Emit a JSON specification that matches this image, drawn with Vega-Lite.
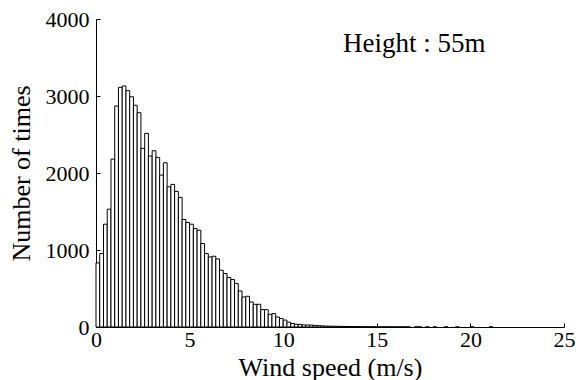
{
  "$schema": "https://vega.github.io/schema/vega-lite/v6.json",
  "autosize": "none",
  "width": 468,
  "height": 308,
  "padding": {"left": 96, "top": 19, "right": 12, "bottom": 53},
  "background": "white",
  "config": {
    "view": {"stroke": null},
    "font": "Liberation Serif",
    "axis": {
      "grid": false,
      "domainColor": "black",
      "domainWidth": 1,
      "tickColor": "black",
      "tickWidth": 1,
      "labelColor": "black",
      "titleColor": "black",
      "labelFont": "Liberation Serif",
      "titleFont": "Liberation Serif",
      "titleFontWeight": "normal",
      "labelFontSize": 22,
      "titleFontSize": 26
    }
  },
  "datasets": {
    "bins": [
      {"x0": 0.0, "x1": 0.2, "count": 832},
      {"x0": 0.2, "x1": 0.4, "count": 954},
      {"x0": 0.4, "x1": 0.6, "count": 1335},
      {"x0": 0.6, "x1": 0.8, "count": 1530},
      {"x0": 0.8, "x1": 1.0, "count": 2180},
      {"x0": 1.0, "x1": 1.2, "count": 2870},
      {"x0": 1.2, "x1": 1.4, "count": 3113},
      {"x0": 1.4, "x1": 1.6, "count": 3130},
      {"x0": 1.6, "x1": 1.8, "count": 3070},
      {"x0": 1.8, "x1": 2.0, "count": 2990},
      {"x0": 2.0, "x1": 2.2, "count": 2880},
      {"x0": 2.2, "x1": 2.4, "count": 2783},
      {"x0": 2.4, "x1": 2.6, "count": 2320},
      {"x0": 2.6, "x1": 2.8, "count": 2515},
      {"x0": 2.8, "x1": 3.0, "count": 2220},
      {"x0": 3.0, "x1": 3.2, "count": 2289},
      {"x0": 3.2, "x1": 3.4, "count": 2203},
      {"x0": 3.4, "x1": 3.6, "count": 1973},
      {"x0": 3.6, "x1": 3.8, "count": 2133},
      {"x0": 3.8, "x1": 4.0, "count": 1821},
      {"x0": 4.0, "x1": 4.2, "count": 1852},
      {"x0": 4.2, "x1": 4.4, "count": 1761},
      {"x0": 4.4, "x1": 4.6, "count": 1683},
      {"x0": 4.6, "x1": 4.8, "count": 1397},
      {"x0": 4.8, "x1": 5.0, "count": 1358},
      {"x0": 5.0, "x1": 5.2, "count": 1335},
      {"x0": 5.2, "x1": 5.4, "count": 1279},
      {"x0": 5.4, "x1": 5.6, "count": 1257},
      {"x0": 5.6, "x1": 5.8, "count": 1084},
      {"x0": 5.8, "x1": 6.0, "count": 954},
      {"x0": 6.0, "x1": 6.2, "count": 910},
      {"x0": 6.2, "x1": 6.4, "count": 919},
      {"x0": 6.4, "x1": 6.6, "count": 884},
      {"x0": 6.6, "x1": 6.8, "count": 737},
      {"x0": 6.8, "x1": 7.0, "count": 694},
      {"x0": 7.0, "x1": 7.2, "count": 642},
      {"x0": 7.2, "x1": 7.4, "count": 616},
      {"x0": 7.4, "x1": 7.6, "count": 564},
      {"x0": 7.6, "x1": 7.8, "count": 468},
      {"x0": 7.8, "x1": 8.0, "count": 390},
      {"x0": 8.0, "x1": 8.2, "count": 399},
      {"x0": 8.2, "x1": 8.4, "count": 325},
      {"x0": 8.4, "x1": 8.6, "count": 295},
      {"x0": 8.6, "x1": 8.8, "count": 295},
      {"x0": 8.8, "x1": 9.0, "count": 226},
      {"x0": 9.0, "x1": 9.2, "count": 226},
      {"x0": 9.2, "x1": 9.4, "count": 165},
      {"x0": 9.4, "x1": 9.6, "count": 174},
      {"x0": 9.6, "x1": 9.8, "count": 130},
      {"x0": 9.8, "x1": 10.0, "count": 109},
      {"x0": 10.0, "x1": 10.2, "count": 90},
      {"x0": 10.2, "x1": 10.4, "count": 63},
      {"x0": 10.4, "x1": 10.6, "count": 45},
      {"x0": 10.6, "x1": 10.8, "count": 36},
      {"x0": 10.8, "x1": 11.0, "count": 34},
      {"x0": 11.0, "x1": 11.2, "count": 27},
      {"x0": 11.2, "x1": 11.4, "count": 26},
      {"x0": 11.4, "x1": 11.6, "count": 25},
      {"x0": 11.6, "x1": 11.8, "count": 21},
      {"x0": 11.8, "x1": 12.0, "count": 17},
      {"x0": 12.0, "x1": 12.2, "count": 15},
      {"x0": 12.2, "x1": 12.4, "count": 12},
      {"x0": 12.4, "x1": 12.6, "count": 11},
      {"x0": 12.6, "x1": 12.8, "count": 10},
      {"x0": 12.8, "x1": 13.0, "count": 9},
      {"x0": 13.0, "x1": 13.2, "count": 8},
      {"x0": 13.2, "x1": 13.4, "count": 7},
      {"x0": 13.4, "x1": 13.6, "count": 7},
      {"x0": 13.6, "x1": 13.8, "count": 6},
      {"x0": 13.8, "x1": 14.0, "count": 5},
      {"x0": 14.0, "x1": 14.2, "count": 5},
      {"x0": 14.2, "x1": 14.4, "count": 4},
      {"x0": 14.4, "x1": 14.6, "count": 4},
      {"x0": 14.6, "x1": 14.8, "count": 3},
      {"x0": 14.8, "x1": 15.0, "count": 3},
      {"x0": 15.0, "x1": 15.2, "count": 3},
      {"x0": 15.2, "x1": 15.4, "count": 2},
      {"x0": 15.4, "x1": 15.6, "count": 2},
      {"x0": 15.6, "x1": 15.8, "count": 2},
      {"x0": 15.8, "x1": 16.0, "count": 2},
      {"x0": 16.0, "x1": 16.2, "count": 1},
      {"x0": 16.2, "x1": 16.4, "count": 2},
      {"x0": 16.4, "x1": 16.6, "count": 1},
      {"x0": 16.6, "x1": 16.8, "count": 1},
      {"x0": 17.0, "x1": 17.2, "count": 1},
      {"x0": 17.2, "x1": 17.4, "count": 1},
      {"x0": 17.6, "x1": 17.8, "count": 1},
      {"x0": 18.0, "x1": 18.2, "count": 1},
      {"x0": 18.6, "x1": 18.8, "count": 1},
      {"x0": 19.2, "x1": 19.4, "count": 1},
      {"x0": 20.0, "x1": 20.2, "count": 1},
      {"x0": 21.0, "x1": 21.2, "count": 1}
    ],
    "notes": [
      {"x": 17.0, "y": 3570, "label": "Height : 55m"}
    ]
  },
  "layer": [
    {
      "data": {"name": "bins"},
      "mark": {"type": "bar", "fill": "white", "stroke": "black", "strokeWidth": 1},
      "encoding": {
        "x": {
          "field": "x0",
          "type": "quantitative",
          "scale": {"domain": [0, 25], "nice": false, "zero": false},
          "axis": {
            "title": "Wind speed (m/s)",
            "values": [0, 5, 10, 15, 20, 25],
            "format": "d",
            "tickSize": -4,
            "labelPadding": 6,
            "labelFlush": false,
            "labelOverlap": false,
            "titlePadding": 4
          }
        },
        "x2": {"field": "x1"},
        "y": {
          "field": "count",
          "type": "quantitative",
          "scale": {"domain": [0, 4000], "nice": false},
          "axis": {
            "title": "Number of times",
            "values": [0, 1000, 2000, 3000, 4000],
            "format": "d",
            "tickSize": -4,
            "labelPadding": 11,
            "labelFlush": false,
            "labelOverlap": false,
            "titlePadding": 11
          }
        },
        "y2": {"datum": 0}
      }
    },
    {
      "data": {"name": "notes"},
      "mark": {"type": "text", "font": "Liberation Serif", "fontSize": 27, "align": "center", "baseline": "alphabetic", "color": "black"},
      "encoding": {
        "x": {"field": "x", "type": "quantitative"},
        "y": {"field": "y", "type": "quantitative"},
        "text": {"field": "label"}
      }
    }
  ]
}
